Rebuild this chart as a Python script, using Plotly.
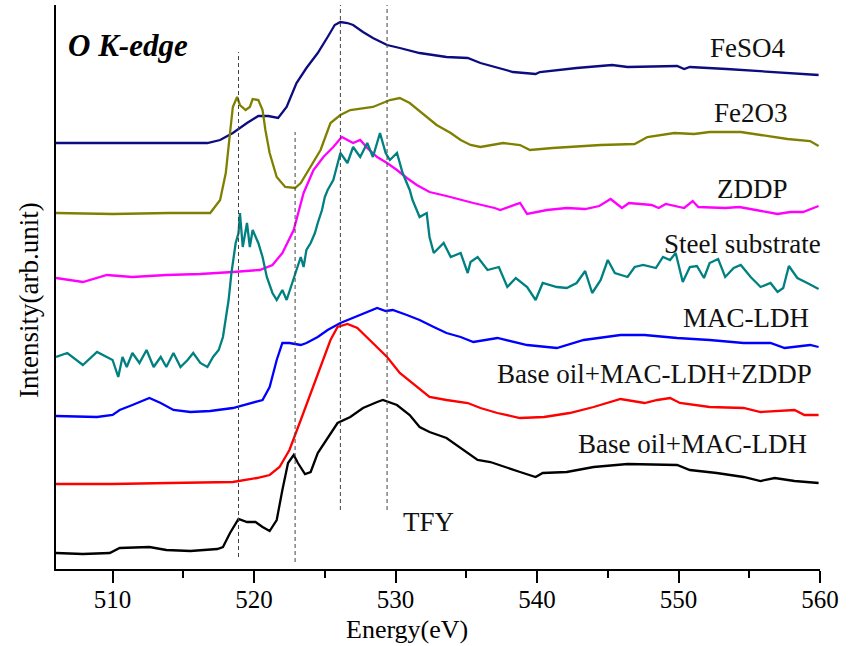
import plotly.graph_objects as go

# ---------------- data (energy in eV, intensity in arb. units) ----------------
feso4_e = [506.0, 516.7, 517.6, 518.5, 519.5, 520.3, 521.0, 521.7, 522.3, 523.0, 523.7, 524.5, 525.2, 525.7,
           526.1, 526.6, 527.0, 527.7, 528.4, 529.4, 530.3, 531.7, 533.6, 535.1, 536.0, 537.2, 538.3, 539.9,
           540.2, 542.8, 545.3, 546.4, 548.7, 549.9, 550.4, 550.8, 553.4, 555.8, 557.7, 559.9]
feso4_i = [426, 426, 429, 436, 446, 453, 453, 451, 462, 486, 501, 516, 532, 544,
           547, 546, 544, 537, 531, 524, 521, 516, 512, 511, 506, 501, 497, 495,
           497, 501, 504, 502, 503, 503, 500, 502, 500, 498, 496, 494]

fe2o3_e = [506.0, 510.0, 514.0, 516.9, 517.6, 518.0, 518.3, 518.5, 518.8, 519.0, 519.4, 519.7, 519.9, 520.3,
           520.6, 520.8, 521.1, 521.6, 522.2, 522.9, 523.3, 524.0, 524.7, 525.4, 526.1, 526.8, 527.7, 528.4,
           529.6, 530.3, 531.0, 532.0, 532.9, 533.9, 534.6, 535.3, 536.0, 537.6, 538.8, 539.5, 541.1, 544.5,
           546.9, 547.8, 549.7, 551.1, 552.2, 554.4, 555.8, 557.7, 559.3, 559.9]
fe2o3_i = [356, 355, 356, 356, 369, 396, 436, 462, 472, 464, 459, 462, 470, 469,
           459, 439, 416, 392, 382, 381, 386, 402, 419, 446, 454, 459, 461, 462,
           469, 471, 466, 454, 444, 436, 429, 424, 422, 426, 424, 419, 421, 424,
           425, 432, 436, 435, 437, 437, 434, 430, 428, 423]

zddp_e = [506.0, 507.9, 509.6, 511.4, 513.8, 516.2, 518.5, 520.4, 521.3, 522.0, 522.8, 523.5, 524.2, 524.9,
          525.6, 526.2, 526.6, 527.0, 527.5, 528.0, 528.7, 529.4, 530.1, 530.8, 531.5, 532.4, 533.6, 534.6,
          535.5, 537.0, 537.4, 538.8, 539.3, 540.7, 542.1, 543.4, 544.4, 545.2, 546.0, 546.5, 548.1, 548.6,
          549.1, 550.4, 551.0, 551.4, 553.3, 554.3, 555.7, 557.0, 557.9, 558.8, 559.9]
zddp_i = [291, 287, 294, 292, 294, 295, 297, 299, 304, 316, 339, 376, 399, 412,
          422, 432, 429, 426, 429, 421, 412, 406, 399, 391, 384, 377, 373, 369,
          366, 361, 359, 366, 355, 359, 361, 360, 363, 370, 361, 366, 364, 361,
          365, 361, 368, 362, 361, 362, 358, 355, 357, 357, 363]

steel_e = [506.0, 506.8, 507.9, 508.9, 510.0, 510.4, 510.7, 511.0, 511.4, 511.9, 512.4, 512.9, 513.4, 513.8,
           514.3, 514.8, 515.3, 515.7, 516.2, 516.7, 517.1, 517.5, 517.8, 518.2, 518.4, 518.7, 518.9, 519.0,
           519.2, 519.5, 519.7, 519.9, 520.3, 520.6, 520.9, 521.3, 521.6, 522.0, 522.3, 522.7, 523.0, 523.3,
           523.5, 523.7, 524.0, 524.3, 524.5, 524.8, 525.0, 525.2, 525.6, 526.1, 526.6, 527.0, 527.5, 528.0,
           528.4, 528.9, 529.3, 529.6, 530.1, 530.5, 531.0, 531.2, 531.7, 532.2, 532.4, 532.7, 533.4, 533.9,
           534.6, 535.1, 535.3, 535.8, 536.5, 537.3, 537.9, 538.5, 539.3, 539.9, 540.4, 541.4, 542.1, 542.8,
           543.4, 543.9, 544.5, 545.0, 545.5, 546.4, 546.9, 547.5, 548.4, 548.9, 549.4, 549.8, 550.3, 550.8,
           551.3, 551.8, 552.2, 552.8, 553.3, 553.9, 554.4, 555.1, 555.8, 556.5, 557.0, 557.4, 557.8, 558.4,
           559.1, 559.9]
steel_i = [212, 216, 204, 217, 209, 192, 212, 202, 216, 206, 219, 202, 212, 202,
           216, 202, 209, 216, 206, 202, 212, 219, 232, 269, 296, 326, 336, 356,
           322, 346, 322, 339, 326, 312, 292, 276, 269, 279, 269, 286, 299, 312,
           302, 319, 326, 336, 346, 359, 372, 379, 389, 416, 406, 422, 412, 426,
           412, 436, 416, 409, 416, 396, 379, 369, 352, 356, 332, 316, 326, 312,
           316, 296, 307, 312, 299, 302, 282, 291, 282, 269, 286, 282, 281, 286,
           298, 276, 289, 309, 296, 292, 302, 304, 301, 312, 309, 316, 287, 302,
           303, 291, 306, 310, 292, 301, 304, 292, 282, 286, 277, 281, 303, 291,
           286, 280]

macldh_e = [506.0, 507.9, 508.9, 510.0, 510.5, 511.4, 512.6, 513.4, 514.3, 515.5, 516.9, 518.5, 519.7, 520.6,
            521.1, 521.6, 522.0, 522.5, 523.3, 523.7, 524.5, 525.2, 526.1, 527.0, 528.0, 528.7, 529.3, 529.8,
            530.8, 531.7, 532.7, 533.6, 534.6, 535.5, 537.2, 538.3, 539.3, 541.4, 543.3, 545.9, 547.6, 549.9,
            552.2, 554.6, 556.5, 557.5, 559.3, 559.9]
macldh_i = [153, 152, 152, 154, 159, 164, 171, 166, 159, 157, 158, 161, 166, 169,
            182, 209, 226, 226, 224, 226, 232, 239, 246, 251, 257, 261, 258, 259,
            254, 249, 242, 236, 232, 227, 231, 227, 224, 221, 229, 234, 234, 231,
            229, 226, 226, 221, 224, 222]

mix_zddp_e = [506.0, 510.0, 514.0, 518.5, 520.2, 521.1, 521.8, 522.5, 523.3, 524.0, 524.7, 525.4, 525.9, 526.6,
              527.3, 528.2, 529.4, 530.3, 531.5, 532.4, 533.6, 535.1, 536.0, 537.2, 538.8, 540.5, 542.3, 544.0,
              545.9, 547.6, 548.5, 549.4, 550.1, 552.2, 554.6, 555.8, 558.2, 558.9, 559.9]
mix_zddp_i = [85, 85, 86, 87, 91, 94, 102, 119, 149, 176, 202, 229, 242, 245,
              241, 229, 212, 196, 182, 172, 169, 166, 161, 156, 151, 152, 156, 162,
              170, 166, 169, 171, 166, 162, 161, 157, 159, 154, 154]

mix_e = [506.0, 507.9, 509.8, 510.5, 512.6, 513.8, 515.5, 517.4, 517.8, 518.3, 518.9, 519.5, 520.1, 520.6,
         521.1, 521.6, 522.0, 522.4, 522.8, 523.1, 523.6, 524.0, 524.5, 525.2, 525.9, 526.8, 527.7, 528.7,
         529.1, 530.1, 531.0, 531.7, 532.4, 533.6, 534.8, 535.8, 536.7, 537.9, 538.8, 539.9, 540.4, 542.1,
         544.0, 546.4, 549.9, 550.8, 552.7, 554.6, 555.8, 556.8, 558.2, 559.9]
mix_i = [16, 15, 16, 21, 22, 19, 18, 20, 22, 36, 50, 47, 47, 42,
         38, 49, 79, 106, 114, 106, 95, 97, 116, 131, 146, 152, 161, 167,
         169, 164, 154, 142, 137, 131, 119, 109, 107, 101, 97, 92, 96, 97,
         102, 105, 104, 99, 96, 92, 88, 91, 88, 86]

# dashed reference lines
dash_x = [518.9, 522.9, 526.1, 529.4]
dash_y0 = [12, 7, 59, 59]
dash_y1 = [517, 437, 564, 564]

# labels
label_text = ["FeSO4", "Fe2O3", "ZDDP", "Steel substrate", "MAC-LDH",
              "Base oil+MAC-LDH+ZDDP", "Base oil+MAC-LDH", "TFY"]
label_x = [554.9, 555.1, 555.2, 554.5, 554.8, 548.3, 551.0, 532.3]
label_y = [521, 456, 380, 325, 251, 195, 125, 47]

series = [
    ("FeSO4", feso4_e, feso4_i, "#0c0c80"),
    ("Fe2O3", fe2o3_e, fe2o3_i, "#808000"),
    ("ZDDP", zddp_e, zddp_i, "#ff00ff"),
    ("Steel substrate", steel_e, steel_i, "#008080"),
    ("MAC-LDH", macldh_e, macldh_i, "#0000ff"),
    ("Base oil+MAC-LDH+ZDDP", mix_zddp_e, mix_zddp_i, "#ff0000"),
    ("Base oil+MAC-LDH", mix_e, mix_i, "#000000"),
]

FONT = "Liberation Serif, Times New Roman, serif"

fig = go.Figure()
for name, xs, ys, col in series:
    fig.add_trace(go.Scatter(x=xs, y=ys, mode="lines", name=name,
                             line=dict(color=col, width=2.3), showlegend=False))

for xv, y0, y1 in zip(dash_x, dash_y0, dash_y1):
    fig.add_shape(type="line", xref="x", yref="y", x0=xv, x1=xv, y0=y0, y1=y1,
                  line=dict(color="#444444", width=1, dash="4px,3px"))

for t, xv, yv in zip(label_text, label_x, label_y):
    fig.add_annotation(x=xv, y=yv, xref="x", yref="y", text=t, showarrow=False,
                       font=dict(family=FONT, size=27, color="#111111"),
                       xanchor="center", yanchor="middle")

fig.add_annotation(x=511.1, y=524, xref="x", yref="y", text="<b><i>O K-edge</i></b>",
                   showarrow=False, font=dict(family=FONT, size=31, color="#000000"),
                   xanchor="center", yanchor="middle")

# axis titles as annotations for exact placement
fig.add_annotation(x=407, y=629, xref="paper", yref="paper", text="Energy(eV)", showarrow=False,
                   font=dict(family=FONT, size=26, color="#000000"), xanchor="center", yanchor="middle")
fig.add_annotation(x=29, y=300, xref="paper", yref="paper", text="Intensity(arb.unit)", showarrow=False,
                   textangle=-90, font=dict(family=FONT, size=27, color="#000000"),
                   xanchor="center", yanchor="middle")

fig.update_layout(
    width=857, height=646,
    margin=dict(l=56, r=37, t=5, b=77),
    paper_bgcolor="white", plot_bgcolor="white",
    xaxis=dict(range=[506, 560], tickvals=[510, 520, 530, 540, 550, 560],
               ticks="outside", ticklen=12, tickwidth=1.5, tickcolor="black",
               showline=True, linecolor="black", linewidth=2, showgrid=False, zeroline=False,
               tickfont=dict(family=FONT, size=25, color="black"), ticklabelstandoff=-5,
               minor=dict(dtick=5, tick0=505, ticks="outside", ticklen=7, tickwidth=1.5,
                          tickcolor="black", showgrid=False)),
    yaxis=dict(range=[0, 564], showticklabels=False, ticks="", showline=True,
               linecolor="black", linewidth=2, showgrid=False, zeroline=False),
)

# convert paper-positioned pixel annotations
W, H = 857, 646
l, r, t, b = 56, 37, 5, 77
for ann in fig.layout.annotations:
    if ann.xref == "paper":
        px, py = ann.x, ann.y
        ann.x = (px - l) / (W - l - r)
        ann.y = (H - b - py) / (H - t - b)

fig.write_html("out.html", config={"displayModeBar": False},
               post_script="document.body.style.margin='0';document.body.style.padding='0';")
